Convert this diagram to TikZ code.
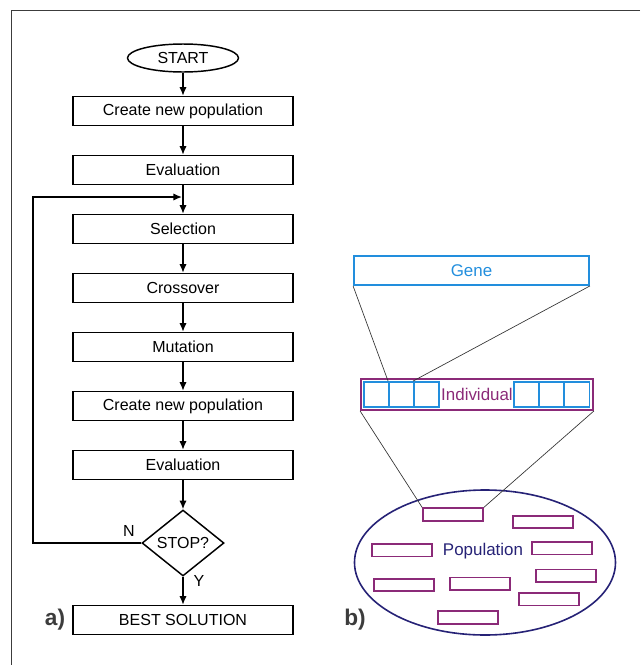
\documentclass[tikz,border=0pt]{standalone}
\usepackage{fontspec}
\setmainfont{Liberation Sans}
\usetikzlibrary{shapes.geometric,arrows.meta}
\definecolor{geneblue}{RGB}{34,142,221}
\definecolor{indpurple}{RGB}{139,42,120}
\definecolor{popnavy}{RGB}{38,34,118}
\definecolor{framegray}{RGB}{60,60,60}

\begin{document}
\begin{tikzpicture}[x=0.75pt,y=-0.75pt,
    >={Latex[length=6.5pt,width=5.5pt]},
    font=\fontsize{12}{14}\selectfont,
    stepbox/.style={draw,line width=1.1pt,minimum width=165pt,minimum height=21.75pt,inner sep=0pt},
    cellbox/.style={draw=geneblue,line width=1.4pt,minimum width=18.75pt,minimum height=18.75pt,inner sep=0pt},
    indbox/.style={draw=indpurple,line width=1.3pt,minimum width=45pt,minimum height=9.4pt,inner sep=0pt},
    thinline/.style={line width=0.5pt,black!80}]
  \useasboundingbox (0,0) rectangle (640,665);
  \draw[framegray,line width=1.2pt] (640,10.5) -- (11.5,10.5) -- (11.5,665);
  % a) flow chart
  \node[draw,ellipse,line width=1.1pt,minimum width=83.25pt,minimum height=21pt,inner sep=0pt] (start) at (183,58) {START};
  \node[stepbox] (create1) at (183,111) {Create new population};
  \node[stepbox] (eval1) at (183,170) {Evaluation};
  \node[stepbox] (select) at (183,229) {Selection};
  \node[stepbox] (cross) at (183,288) {Crossover};
  \node[stepbox] (mutate) at (183,347) {Mutation};
  \node[stepbox] (create2) at (183,406) {Create new population};
  \node[stepbox] (eval2) at (183,465) {Evaluation};
  \node[draw,diamond,aspect=1.24,line width=1.1pt,minimum width=61.5pt,minimum height=49.5pt,inner sep=0pt] (stop) at (183,543) {STOP?};
  \node[stepbox] (best) at (183,620) {BEST SOLUTION};
  \foreach \a/\b in {start/create1,create1/eval1,eval1/select,select/cross,cross/mutate,mutate/create2,create2/eval2,eval2/stop,stop/best}
    \draw[->,line width=1.1pt] (\a) -- (\b);
  \coordinate (join) at (182,197);
  \coordinate (back) at (33,197);
  \draw[->,line width=1.1pt] (stop.west) -| (back) -- (join);
  \node (nlabel) at (129,531) {N};
  \node (ylabel) at (199,581) {Y};
  \node[font=\fontsize{17}{20}\selectfont\bfseries,text=framegray] (alabel) at (55,620) {a)};
  % b) gene, individual, population
  \node[draw=geneblue,line width=1.4pt,minimum width=176.25pt,minimum height=21.75pt,inner sep=0pt,text=geneblue,font=\fontsize{12.7}{15}\selectfont] (gene) at (471.5,270.5) {Gene};
  \node[draw=indpurple,line width=1.4pt,minimum width=174pt,minimum height=23.25pt,inner sep=0pt] (individual) at (477,394.5) {};
  \node[text=indpurple,font=\fontsize{12.7}{15}\selectfont] (indtext) at (477,394) {Individual};
  \foreach \i/\x in {1/376.5,2/401.5,3/426.5,4/526.5,5/551.5,6/577}
    \node[cellbox] (cell\i) at (\x,394.5) {};
  \draw[thinline] (gene.south west) -- (cell2.north west);
  \draw[thinline] (gene.south east) -- (cell3.north west);
  \node[draw=popnavy,ellipse,line width=1.2pt,minimum width=195.75pt,minimum height=108.75pt,inner sep=0pt] (population) at (485,562.5) {};
  \node[text=popnavy,font=\fontsize{12.7}{15}\selectfont] (poptext) at (483,551) {Population};
  \foreach \i/\x/\y in {1/453/514.5,2/543/522,3/402/550.3,4/562.3/548.3,5/565.7/575.7,6/404/585,7/479.7/583.7,8/549/599.3,9/468/617.5}
    \node[indbox] (ind\i) at (\x,\y) {};
  \draw[thinline] (individual.south west) -- (ind1.north west);
  \draw[thinline] (individual.south east) -- (ind1.north east);
  \node[font=\fontsize{17}{20}\selectfont\bfseries,text=framegray] (blabel) at (355,620) {b)};
\end{tikzpicture}
\end{document}
